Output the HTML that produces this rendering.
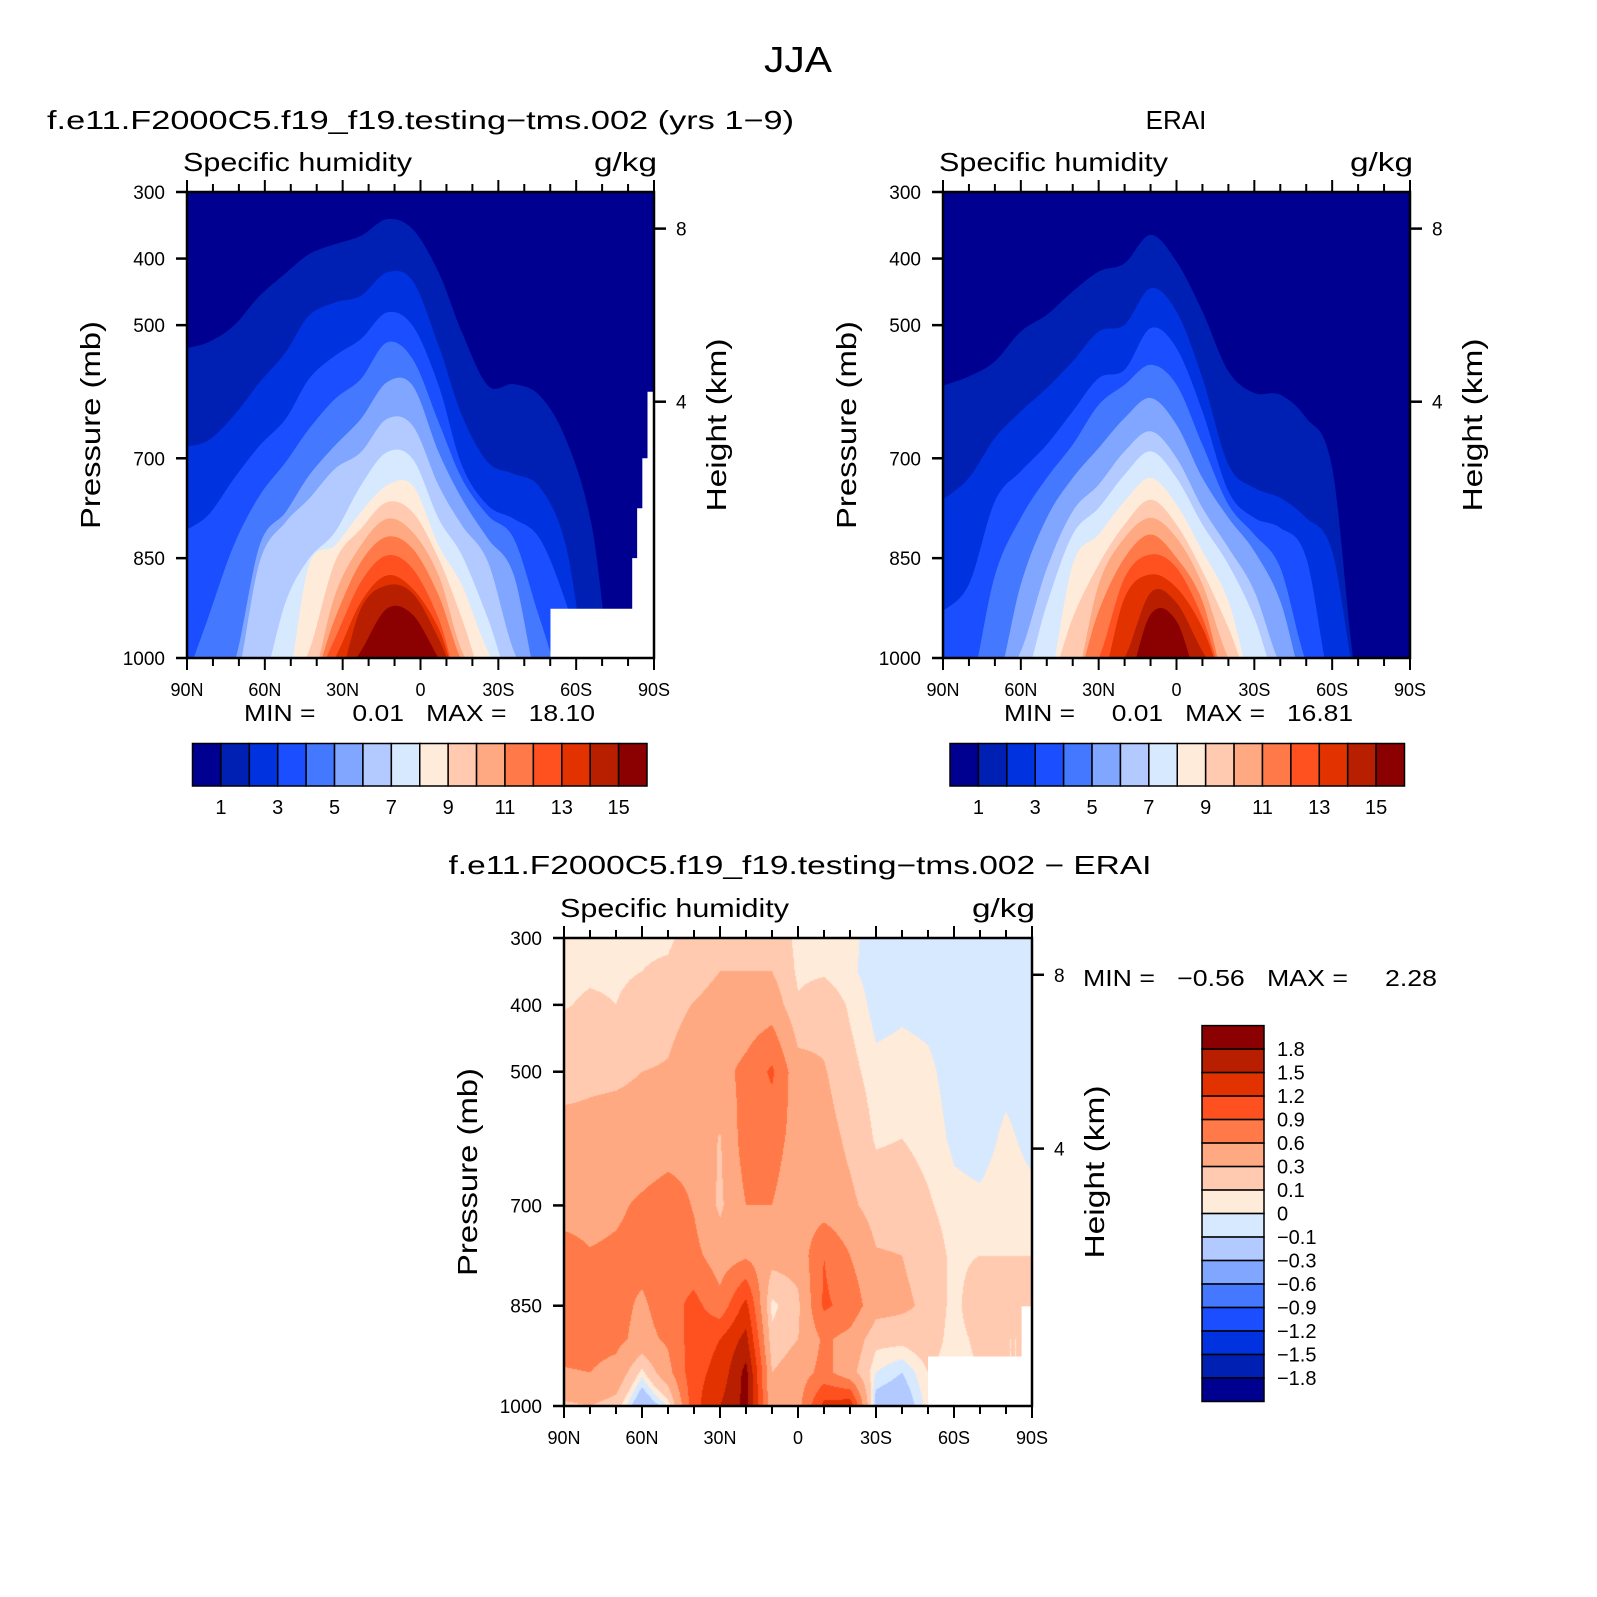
<!DOCTYPE html>
<html><head><meta charset="utf-8">
<style>
html,body{margin:0;padding:0;background:#fff;}
#wrap{position:relative;width:1597px;height:1597px;overflow:hidden;}
#diffCanvas{position:absolute;left:564px;top:938px;}
#chart{position:absolute;left:0;top:0;}
text{font-family:"Liberation Sans",sans-serif;fill:#000;white-space:pre;}
</style></head>
<body>
<div id="wrap">
<canvas id="diffCanvas" width="468" height="468"></canvas>
<svg id="chart" width="1597" height="1597" viewBox="0 0 1597 1597">
<defs>
<clipPath id="clipA"><rect x="187" y="192" width="467" height="466"/></clipPath>
<clipPath id="clipB"><rect x="943" y="192" width="467" height="466"/></clipPath>
</defs>
<text x="798" y="72" font-size="36" text-anchor="middle" textLength="68" lengthAdjust="spacingAndGlyphs">JJA</text>
<text x="47" y="129" font-size="26" textLength="747" lengthAdjust="spacingAndGlyphs">f.e11.F2000C5.f19_f19.testing−tms.002 (yrs 1−9)</text>
<text x="1176" y="129" font-size="26" text-anchor="middle">ERAI</text>
<text x="800" y="874" font-size="26" text-anchor="middle" textLength="703" lengthAdjust="spacingAndGlyphs">f.e11.F2000C5.f19_f19.testing−tms.002 − ERAI</text>
<g id="layer"></g>
</svg>
</div>
<script>
// ---- data: pressure (mb) of each contour level's top boundary at each latitude ----
const levelsQ = [1,2,3,4,5,6,7,8,9,10,11,12,13,14,15];
const modelLats = [92,82,72,62,52,43,33,23,13,3,-7,-16,-26,-36,-46,-56,-66,-75,-85];
const modelLevelTop = [
[536,526,501,456,422,393.5,378.5,366,341,356,421,511,591,588.5,606,671,801,1050,1050],
[683.5,673.5,636,586,541,486,466,456,421,433.5,531,636,706,723.5,743.5,831,1050,1050,1050],
[811,786,731,681,641,581,546,521,481,501,591,711,771,791,821,916,1050,1050,1050],
[1050,941,831,756,706,656,611,581,526,551,646,731,786,821,941,1050,1050,1050,1050],
[1050,1050,1010,831,781,726,681,641,586,591,691,761,821,876,1050,1050,1050,1050,1050],
[1050,1050,1050,856,796,761,716,691,641,651,741,801,856,990,1050,1050,1050,1050,1050],
[1050,1050,1050,1050,916,851,811,741,691,701,791,846,941,1050,1050,1050,1050,1050,1050],
[1050,1050,1050,1050,1050,861,831,781,741,741,831,891,990,1050,1050,1050,1050,1050,1050],
[1050,1050,1050,1050,1050,990,856,806,766,781,851,941,1050,1050,1050,1050,1050,1050,1050],
[1050,1050,1050,1050,1050,1050,906,831,791,811,876,990,1050,1050,1050,1050,1050,1050,1050],
[1050,1050,1050,1050,1050,1050,941,856,818,836,906,1005,1050,1050,1050,1050,1050,1050,1050],
[1050,1050,1050,1050,1050,1050,971,886,846,866,941,1050,1050,1050,1050,1050,1050,1050,1050],
[1050,1050,1050,1050,1050,1050,1000,916,876,896,956,1050,1050,1050,1050,1050,1050,1050,1050],
[1050,1050,1050,1050,1050,1050,1050,926,891,903,971,1050,1050,1050,1050,1050,1050,1050,1050],
[1050,1050,1050,1050,1050,1050,1050,990,926,935,1000,1050,1050,1050,1050,1050,1050,1050,1050]
];
const modelMaskLat = [-87.5,-85.5,-83.5,-81.6,-50.1];
const modelMaskTop = [600,700,775,850,926];
const obsLats = [90,80,70,60,50,40,30,20,10,0,-10,-20,-30,-40,-50,-60,-70,-80,-90];
const obsLevelTop = [
[591,577,554.5,509.5,484.5,449.5,419.5,407,364.5,404.5,479.5,569.5,602,604.5,639.5,714.5,1050,1050,1050],
[762,729.5,669.5,629.5,594.5,554.5,509.5,499.5,444.5,479.5,579.5,709.5,744.5,759.5,789.5,839.5,1050,1050,1050],
[929.5,889.5,764.5,719.5,679.5,629.5,579.5,567,504.5,534.5,629.5,749.5,789.5,804.5,849.5,1050,1050,1050,1050],
[1050,1050,876,789.5,729.5,679.5,619.5,589.5,559.5,589.5,679.5,769.5,814.5,864.5,1005,1050,1050,1050,1050],
[1050,1050,1050,889.5,789.5,729.5,684.5,639.5,609.5,649.5,729.5,789.5,839.5,914.5,1050,1050,1050,1050,1050],
[1050,1050,1050,990,865.5,779.5,739.5,689.5,659.5,699.5,774.5,834.5,899.5,1010,1050,1050,1050,1050,1050],
[1050,1050,1050,1050,919.5,814.5,774.5,724.5,689.5,729.5,799.5,859.5,939.5,1050,1050,1050,1050,1050,1050],
[1050,1050,1050,1050,1050,859.5,814.5,764.5,729.5,769.5,839.5,914.5,1050,1050,1050,1050,1050,1050,1050],
[1050,1050,1050,1050,1050,939.5,859.5,799.5,762,799.5,869.5,954.5,1050,1050,1050,1050,1050,1050,1050],
[1050,1050,1050,1050,1050,1050,889.5,819.5,789.5,819.5,889.5,1000,1050,1050,1050,1050,1050,1050,1050],
[1050,1050,1050,1050,1050,1050,929.5,849.5,814.5,849.5,914.5,1050,1050,1050,1050,1050,1050,1050,1050],
[1050,1050,1050,1050,1050,1050,1000,879.5,844.5,864.5,939.5,1050,1050,1050,1050,1050,1050,1050,1050],
[1050,1050,1050,1050,1050,1050,1050,909.5,874.5,894.5,954.5,1050,1050,1050,1050,1050,1050,1050,1050],
[1050,1050,1050,1050,1050,1050,1050,1000,902,917,990,1050,1050,1050,1050,1050,1050,1050,1050],
[1050,1050,1050,1050,1050,1050,1050,1050,934.5,944.5,1050,1050,1050,1050,1050,1050,1050,1050,1050]
];
// ---- difference field grid (g/kg), rows = diffPres, columns = diffLats ----
const diffLats = [90,80,70,60,50,40,30,20,10,0,-10,-20,-30,-40,-50,-60,-70,-80,-90];
const diffPres = [300,350,400,500,600,700,775,850,900,950,1000];
const diffCols = [
[0.05,0.07,0.09,0.2,0.4,0.5,0.7,0.75,0.7,0.58,0.25],
[0.05,0.08,0.12,0.25,0.38,0.5,0.62,0.7,0.7,0.6,0.3],
[0.06,0.08,0.1,0.26,0.4,0.55,0.65,0.7,0.68,0.5,0.2],
[0.08,0.1,0.15,0.3,0.4,0.65,0.7,0.55,0.5,0.05,-0.3],
[0.08,0.12,0.22,0.32,0.45,0.75,0.8,0.75,0.65,0.5,0.0],
[0.15,0.2,0.31,0.45,0.5,0.58,0.68,1.0,1.05,1.1,1.1],
[0.2,0.3,0.4,0.5,0.28,0.25,0.45,0.7,1.2,1.3,1.5],
[0.25,0.3,0.4,0.68,0.75,0.6,0.55,1.3,1.6,1.9,1.9],
[0.25,0.3,0.45,0.95,0.7,0.6,0.4,0.05,0.15,0.3,0.35],
[0.05,0.07,0.12,0.4,0.5,0.45,0.4,0.25,0.3,0.45,0.5],
[0.05,0.08,0.2,0.32,0.4,0.45,0.9,0.95,0.65,0.7,1.3],
[0.03,0.02,0.08,0.15,0.25,0.35,0.6,0.8,0.5,0.4,1.4],
[-0.05,-0.05,-0.04,0.03,0.08,0.2,0.32,0.4,0.15,0.0,-0.2],
[-0.05,-0.04,-0.02,0.04,0.1,0.2,0.3,0.35,0.15,-0.1,-0.25],
[-0.05,-0.04,-0.03,0.02,0.05,0.12,0.2,0.25,0.2,0.1,0.05],
[-0.05,-0.05,-0.05,-0.04,-0.02,0.03,0.06,0.04,0.03,0.02,0.02],
[-0.06,-0.06,-0.06,-0.05,-0.04,0.02,0.1,0.25,0.15,0.1,0.1],
[-0.06,-0.06,-0.06,-0.03,0.02,0.05,0.1,0.15,0.1,0.1,0.1],
[-0.06,-0.06,-0.06,-0.05,-0.03,0.03,0.1,0.1,0.1,0.1,0.1]
];
const diffLevels = [-1.8,-1.5,-1.2,-0.9,-0.6,-0.3,-0.1,0,0.1,0.3,0.6,0.9,1.2,1.5,1.8];
const diffLevelLabels = ["1.8","1.5","1.2","0.9","0.6","0.3","0.1","0","−0.1","−0.3","−0.6","−0.9","−1.2","−1.5","−1.8"];
const diffMaskLat = [-86,-50];
const diffMaskTop = [851,926];
const pressTicks = [300,400,500,700,850,1000];
const latTicks = [90,60,30,0,-30,-60,-90];
const latTickLabels = ["90N","60N","30N","0","30S","60S","90S"];
const heightTicksKm = [8,4];
const heightTickPres = [355,615];
const cbarLabels = ["1","3","5","7","9","11","13","15"];
const palette = ['#000090','#0020b4','#0032e0','#1a4eff','#4478ff','#80a6ff','#b2caff','#d6e9ff','#ffebda','#ffcab0','#ffa982','#ff7a48','#ff5020','#e23200','#b81e00','#8b0000'];

const NS='http://www.w3.org/2000/svg';
const layer=document.getElementById('layer');
function mk(tag,parent,name){
  const e=document.createElementNS(NS,tag);
  
  
  (parent||layer).appendChild(e);
  return e;
}
function txt(x,y,s,size,anchor,name){
  const t=mk('text',layer,name);
  t.setAttribute('x',x);t.setAttribute('y',y);t.setAttribute('font-size',size);
  if(anchor)t.setAttribute('text-anchor',anchor);
  t.textContent=s;return t;
}
function fit(t,len){t.setAttribute('textLength',len);t.setAttribute('lengthAdjust','spacingAndGlyphs');return t;}
function axes(P){
  return {X:lat=>P.x0+(90-lat)/180*P.w, Y:p=>P.y0+(p-300)/700*P.h};
}
function catmull(pts){
  let d='';
  for(let i=0;i<pts.length-1;i++){
    const p0=pts[Math.max(0,i-1)],p1=pts[i],p2=pts[i+1],p3=pts[Math.min(pts.length-1,i+2)];
    const c1x=p1[0]+(p2[0]-p0[0])/6,c1y=p1[1]+(p2[1]-p0[1])/6;
    const c2x=p2[0]-(p3[0]-p1[0])/6,c2y=p2[1]-(p3[1]-p1[1])/6;
    d+=` C${c1x.toFixed(1)},${c1y.toFixed(1)} ${c2x.toFixed(1)},${c2y.toFixed(1)} ${p2[0].toFixed(1)},${p2[1].toFixed(1)}`;
  }
  return d;
}
function drawFilled(P,lats,tops,clip,prefix){
  const A=axes(P);
  const g=mk('g',layer,prefix+'-contours');
  g.setAttribute('clip-path','url(#'+clip+')');
  const bg=mk('rect',g,prefix+'-band-below-1');
  bg.setAttribute('x',P.x0);bg.setAttribute('y',P.y0);bg.setAttribute('width',P.w);bg.setAttribute('height',P.h);bg.setAttribute('fill',palette[0]);
  tops.forEach((row,k)=>{
    const pts=row.map((p,i)=>[A.X(lats[i]),A.Y(p)]);
    const bot=A.Y(1100);
    let d=`M${P.x0-6},${bot} L${P.x0-6},${pts[0][1].toFixed(1)} L${pts[0][0].toFixed(1)},${pts[0][1].toFixed(1)}`+catmull(pts)+` L${P.x0+P.w+6},${pts[pts.length-1][1].toFixed(1)} L${P.x0+P.w+6},${bot} Z`;
    const path=mk('path',g,prefix+'-band-above-'+levelsQ[k]);
    path.setAttribute('d',d);path.setAttribute('fill',palette[k+1]);
  });
}
function drawMask(P,mLat,mTop,name){
  if(!mLat.length)return;
  const A=axes(P);
  let d=`M${A.X(-90)},${A.Y(mTop[0])}`;
  for(let i=0;i<mLat.length;i++){
    d+=` L${A.X(mLat[i])},${A.Y(mTop[i])}`;
    if(i<mLat.length-1)d+=` L${A.X(mLat[i])},${A.Y(mTop[i+1])}`;
  }
  d+=` L${A.X(mLat[mLat.length-1])},${A.Y(1000)} L${A.X(-90)},${A.Y(1000)} Z`;
  const m=mk('path',layer,name);
  m.setAttribute('d',d);m.setAttribute('fill','#fff');
}
function line(x1,y1,x2,y2,w,name){
  const l=mk('line',layer,name);
  l.setAttribute('x1',x1);l.setAttribute('y1',y1);l.setAttribute('x2',x2);l.setAttribute('y2',y2);
  l.setAttribute('stroke','#000');l.setAttribute('stroke-width',w);
  return l;
}
function frame(P,prefix){
  const A=axes(P);
  const r=mk('rect',layer,prefix+'-plot-frame');
  r.setAttribute('x',P.x0);r.setAttribute('y',P.y0);r.setAttribute('width',P.w);r.setAttribute('height',P.h);
  r.setAttribute('fill','none');r.setAttribute('stroke','#000');r.setAttribute('stroke-width',2.5);
  pressTicks.forEach(p=>{
    line(P.x0-11,A.Y(p),P.x0,A.Y(p),2.5,prefix+'-y-tick');
    txt(P.x0-22,A.Y(p)+7,String(p),19,'end',prefix+'-y-tick-label');
  });
  for(let lat=90;lat>=-90;lat-=10){
    const major=(lat%30===0);const L=major?12:8;
    line(A.X(lat),P.y0-L,A.X(lat),P.y0,2,prefix+'-top-tick');
    line(A.X(lat),P.y0+P.h,A.X(lat),P.y0+P.h+L,2,prefix+'-bottom-tick');
  }
  latTicks.forEach((lat,i)=>txt(A.X(lat),P.y0+P.h+38,latTickLabels[i],18,'middle',prefix+'-x-tick-label'));
  heightTicksKm.forEach((km,i)=>{
    const y=A.Y(heightTickPres[i]);
    line(P.x0+P.w,y,P.x0+P.w+12,y,2.5,prefix+'-height-tick');
    txt(P.x0+P.w+22,y+7,String(km),19,'start',prefix+'-height-tick-label');
  });
  fit(txt(P.x0-4,P.y0-21,'Specific humidity',26,'start',prefix+'-variable-label'),229);
  fit(txt(P.x0+P.w+3,P.y0-21,'g/kg',26,'end',prefix+'-units-label'),63);
  const yt=fit(txt(0,0,'Pressure (mb)',28,'middle',prefix+'-y-axis-title'),208);
  yt.setAttribute('transform',`translate(${P.x0-87},${P.y0+P.h/2}) rotate(-90)`);
  const ht=fit(txt(0,0,'Height (km)',28,'middle',prefix+'-height-axis-title'),173);
  ht.setAttribute('transform',`translate(${P.x0+P.w+72},${P.y0+P.h/2}) rotate(-90)`);
}
function hbar(x0,y0,w,h,prefix){
  const bw=w/16;
  palette.forEach((c,i)=>{
    const r=mk('rect',layer,prefix+'-colorbar-box');
    r.setAttribute('x',x0+i*bw);r.setAttribute('y',y0);r.setAttribute('width',bw);r.setAttribute('height',h);
    r.setAttribute('fill',c);r.setAttribute('stroke','#000');r.setAttribute('stroke-width',1.5);
  });
  cbarLabels.forEach((s,i)=>txt(x0+(2*i+1)*bw,y0+h+28,s,20,'middle',prefix+'-colorbar-label'));
}

const PA={x0:187,y0:192,w:467,h:466}, PB={x0:943,y0:192,w:467,h:466}, PC={x0:564,y0:938,w:468,h:468};
drawFilled(PA,modelLats,modelLevelTop,'clipA','model');
drawMask(PA,modelMaskLat,modelMaskTop,'model-missing-data-mask');
drawFilled(PB,obsLats,obsLevelTop,'clipB','obs');

// difference field on canvas
(function(){
  const cv=document.getElementById('diffCanvas');const ctx=cv.getContext('2d');
  const W=cv.width,H=cv.height;const img=ctx.createImageData(W,H);
  const rgb=palette.map(h=>[parseInt(h.substr(1,2),16),parseInt(h.substr(3,2),16),parseInt(h.substr(5,2),16)]);
  for(let py=0;py<H;py++){
    const p=300+(py+0.5)/H*700;
    let j=0;while(j<diffPres.length-2&&p>diffPres[j+1])j++;
    const fy=Math.min(1,Math.max(0,(p-diffPres[j])/(diffPres[j+1]-diffPres[j])));
    for(let px=0;px<W;px++){
      const lat=90-(px+0.5)/W*180;
      let i=0;while(i<diffLats.length-2&&lat<diffLats[i+1])i++;
      const fx=Math.min(1,Math.max(0,(diffLats[i]-lat)/(diffLats[i]-diffLats[i+1])));
      const v=(diffCols[i][j]*(1-fx)+diffCols[i+1][j]*fx)*(1-fy)+(diffCols[i][j+1]*(1-fx)+diffCols[i+1][j+1]*fx)*fy;
      let b=0;while(b<diffLevels.length&&v>=diffLevels[b])b++;
      const c=rgb[b];const o=(py*W+px)*4;
      img.data[o]=c[0];img.data[o+1]=c[1];img.data[o+2]=c[2];img.data[o+3]=255;
    }
  }
  ctx.putImageData(img,0,0);
})();
drawMask(PC,diffMaskLat,diffMaskTop,'diff-missing-data-mask');

frame(PA,'model');frame(PB,'obs');frame(PC,'diff');
fit(txt(244,721,'MIN =     0.01   MAX =   18.10',23,'start','model-min-max-label'),351);
fit(txt(1004,721,'MIN =     0.01   MAX =   16.81',23,'start','obs-min-max-label'),349);
fit(txt(1083,986,'MIN =   −0.56   MAX =     2.28',23,'start','diff-min-max-label'),354);
hbar(192.5,743.5,454.5,42.5,'model');
hbar(950,743.5,454.5,42.5,'obs');
// vertical colorbar for difference
(function(){
  const x0=1202,y0=1025.6,w=62,h=375.9,bh=h/16;
  for(let i=0;i<16;i++){
    const r=mk('rect',layer,'diff-colorbar-box');
    r.setAttribute('x',x0);r.setAttribute('y',y0+i*bh);r.setAttribute('width',w);r.setAttribute('height',bh);
    r.setAttribute('fill',palette[15-i]);r.setAttribute('stroke','#000');r.setAttribute('stroke-width',1.5);
  }
  diffLevelLabels.forEach((s,i)=>txt(x0+w+13,y0+(i+1)*bh+7,s,20,'start','diff-colorbar-label'));
})();
</script>
</body></html>
